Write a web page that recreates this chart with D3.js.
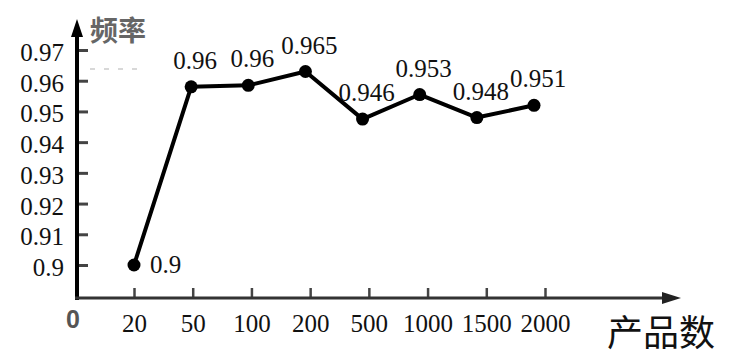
<!DOCTYPE html>
<html>
<head>
<meta charset="utf-8">
<script src="https://cdn.jsdelivr.net/npm/d3@7"></script>
<style>
  body { margin: 0; background: #fff; }
  svg { display: block; }
</style>
</head>
<body>
<svg id="chart"></svg>
<script>
// data
const categories = ['20', '50', '100', '200', '500', '1000', '1500', '2000'];
const frequency = [0.9, 0.958, 0.9585, 0.963, 0.9475, 0.9555, 0.948, 0.952];
const pointLabels = ['0.9', '0.96', '0.96', '0.965', '0.946', '0.953', '0.948', '0.951'];
const yTicks = [0.9, 0.91, 0.92, 0.93, 0.94, 0.95, 0.96, 0.97];

const width = 729;
const height = 364;
const originX = 77;
const originY = 298;
const serif = '"Liberation Serif"';

const svg = d3.select('#chart')
    .attr('width', width)
    .attr('height', height);

// axis ticks
const x = d3.scalePoint()
    .domain(categories)
    .range([134, 545]);

// the drawn points sit a bit left of their ticks in the original
const xMark = d3.scalePoint()
    .domain(categories)
    .range([134, 534]);

const y = d3.scaleLinear()
    .domain([0.9, 0.97])
    .range([265, 50]);

// y axis ticks + labels (ticks point inward)
const yAxis = svg.append('g')
    .attr('transform', `translate(${originX},0)`)
    .call(d3.axisLeft(y)
        .tickValues(yTicks)
        .tickFormat(d => String(+d.toFixed(2)))
        .tickSize(-11)
        .tickPadding(13));
yAxis.attr('font-family', null).attr('font-size', null);
yAxis.select('.domain').remove();
yAxis.selectAll('.tick line').attr('stroke', '#444').attr('stroke-width', 3);
yAxis.selectAll('.tick text')
    .style('font-family', serif)
    .style('font-size', '25px')
    .attr('fill', '#111')
    .attr('dy', '0.42em');

// x axis ticks + labels
const xAxis = svg.append('g')
    .attr('transform', `translate(0,${originY})`)
    .call(d3.axisBottom(x).tickSize(-10).tickPadding(16));
xAxis.attr('font-family', null).attr('font-size', null);
xAxis.select('.domain').remove();
xAxis.selectAll('.tick line').attr('stroke', '#444').attr('stroke-width', 2.5);
xAxis.selectAll('.tick text')
    .style('font-family', serif)
    .style('font-size', '25px')
    .attr('fill', '#111');

// axis lines with arrows
svg.append('line')
    .attr('x1', originX).attr('y1', originY + 2)
    .attr('x2', originX).attr('y2', 32)
    .attr('stroke', '#000').attr('stroke-width', 4);
svg.append('path')
    .attr('d', `M${originX},19 L${originX - 6},37 L${originX + 6},37 Z`)
    .attr('fill', '#000');

svg.append('line')
    .attr('x1', originX - 2).attr('y1', originY)
    .attr('x2', 666).attr('y2', originY)
    .attr('stroke', '#333').attr('stroke-width', 3);
svg.append('path')
    .attr('d', `M681,${originY} L662,${originY - 6} L662,${originY + 6} Z`)
    .attr('fill', '#222');

// faint dashed guide near the top
svg.append('line')
    .attr('x1', 90).attr('y1', 69)
    .attr('x2', 142).attr('y2', 69)
    .attr('stroke', '#ccc').attr('stroke-width', 1.5)
    .attr('stroke-dasharray', '5,9');

// axis titles
svg.append('text')
    .attr('x', 90).attr('y', 41)
    .style('font-family', '"Noto Sans CJK SC"')
    .style('font-size', '28px')
    .style('font-weight', 'bold')
    .attr('fill', '#666')
    .text('频率');

svg.append('text')
    .attr('x', 66).attr('y', 328)
    .style('font-family', '"Liberation Sans"')
    .style('font-size', '25px')
    .style('font-weight', 'bold')
    .attr('fill', '#555')
    .text('0');

svg.append('text')
    .attr('x', 607).attr('y', 346)
    .style('font-family', '"Noto Sans CJK SC"')
    .style('font-size', '36px')
    .attr('fill', '#111')
    .text('产品数');

// the line and its points
const line = d3.line()
    .x((d, i) => xMark(categories[i]))
    .y(d => y(d));

svg.append('path')
    .datum(frequency)
    .attr('fill', 'none')
    .attr('stroke', '#000')
    .attr('stroke-width', 4)
    .attr('stroke-linejoin', 'round')
    .attr('d', line);

svg.append('g')
    .selectAll('circle')
    .data(frequency)
    .join('circle')
    .attr('cx', (d, i) => xMark(categories[i]))
    .attr('cy', d => y(d))
    .attr('r', 6.5)
    .attr('fill', '#000');

// value labels: first one sits to the right, others above
svg.append('g')
    .selectAll('text')
    .data(frequency)
    .join('text')
    .attr('x', (d, i) => i === 0 ? xMark(categories[i]) + 16 : xMark(categories[i]) + 4)
    .attr('y', (d, i) => i === 0 ? y(d) + 8 : y(d) - 18)
    .attr('text-anchor', (d, i) => i === 0 ? 'start' : 'middle')
    .style('font-family', serif)
    .style('font-size', '25px')
    .attr('fill', '#111')
    .text((d, i) => pointLabels[i]);
</script>
</body>
</html>
